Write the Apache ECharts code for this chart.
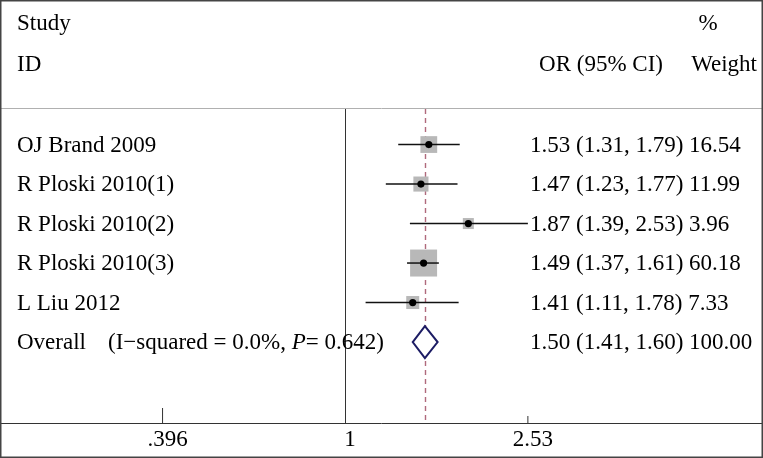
<!DOCTYPE html>
<html>
<head>
<meta charset="utf-8">
<script src="https://cdn.jsdelivr.net/npm/echarts@6/dist/echarts.min.js"></script>
<style>html,body{margin:0;padding:0;background:#fff}#c{width:763px;height:458px}</style>
</head>
<body>
<div id="c"></div>
<script>
var studies = ['OJ Brand 2009', 'R Ploski 2010(1)', 'R Ploski 2010(2)', 'R Ploski 2010(3)', 'L Liu 2012'];
var orVals = [1.53, 1.47, 1.87, 1.49, 1.41];
var loVals = [1.31, 1.23, 1.39, 1.37, 1.11];
var hiVals = [1.79, 1.77, 2.53, 1.61, 1.78];
var weights = [16.54, 11.99, 3.96, 60.18, 7.33];
var overallLabel = 'Overall';
var heteroLabel = 'I\u2212squared = 0.0%';
var pValue = '0.642';
var overallOR = 1.50, overallLo = 1.41, overallHi = 1.60, overallWeight = 100.00;
var tickValues = [0.396, 1, 2.53];
var tickLabels = ['.396', '1', '2.53'];

var FONT = "'Liberation Serif', 'Times New Roman', serif";
var FS = 23;
var TXT = '#000';

var studyData = studies.map(function (s, i) {
  return [orVals[i], i + 1, loVals[i], hiVals[i], weights[i]];
});
var overallRow = studies.length + 1;

function fmt(v) { return v.toFixed(2); }
function font() { return FS + 'px ' + FONT; }

var chart = echarts.init(document.getElementById('c'), null, {renderer: 'canvas'});
var option = {
  animation: false,
  backgroundColor: '#fff',
  grid: {left: 0, right: 0, top: 109, bottom: 35},
  xAxis: {
    type: 'log',
    logBase: 10,
    min: 0.1735,
    max: 8.346,
    axisLine: {show: true, lineStyle: {color: '#333', width: 1}},
    axisTick: {show: false},
    splitLine: {show: false},
    axisLabel: {
      customValues: tickValues,
      margin: 5,
      padding: [0, 0, 0, 10],
      fontFamily: FONT,
      fontSize: FS,
      color: TXT,
      formatter: function (v) {
        var best = 0;
        for (var i = 1; i < tickValues.length; i++) {
          if (Math.abs(tickValues[i] - v) < Math.abs(tickValues[best] - v)) best = i;
        }
        return tickValues[best] === 1 ? '{up|' + tickLabels[best] + '}' : tickLabels[best];
      },
      rich: {up: {fontFamily: FONT, fontSize: FS, color: TXT, padding: [0, 0, 7, 0]}}
    }
  },
  yAxis: {
    type: 'value', inverse: true, min: 0.1, max: 8.05, show: false
  },
  series: [
    {
      type: 'custom',
      name: 'ticks',
      silent: true,
      data: tickValues.filter(function (v) { return v !== 1; }).map(function (v) { return [v]; }),
      encode: {x: 0},
      renderItem: function (params, api) {
        var cs = params.coordSys;
        var x = api.coord([api.value(0), 8.05])[0];
        var bottom = cs.y + cs.height;
        var len = params.dataIndex === 0 ? 15 : 7;
        return {type: 'line', shape: {x1: x, y1: bottom, x2: x, y2: bottom - len},
          style: {stroke: '#333', lineWidth: 1}};
      },
      z: 3
    },
    {
      type: 'custom',
      name: 'refs',
      silent: true,
      data: [],
      markLine: {
        silent: true, symbol: 'none', label: {show: false},
        data: [
          {xAxis: 1, lineStyle: {color: '#333', width: 1, type: 'solid'}},
          {xAxis: overallOR, lineStyle: {color: '#b06a7c', width: 1.4, type: [5, 4]}}
        ]
      },
      renderItem: function () { return null; },
      z: 1
    },
    {
      type: 'custom',
      name: 'studies',
      data: studyData,
      encode: {x: 0, y: 1},
      renderItem: function (params, api) {
        var row = api.value(1);
        var c = api.coord([api.value(0), row]);
        var l = api.coord([api.value(2), row]);
        var h = api.coord([api.value(3), row]);
        var w = api.value(4);
        var s = 5.5 + 2.77 * Math.sqrt(w);
        var i = params.dataIndex;
        return {
          type: 'group',
          children: [
            {type: 'rect', shape: {x: c[0] - s / 2, y: c[1] - s / 2, width: s, height: s},
              style: {fill: '#b8b8b8'}, z2: 1},
            {type: 'line', shape: {x1: l[0], y1: c[1], x2: h[0], y2: c[1]},
              style: {stroke: '#111', lineWidth: 1.5}, z2: 2},
            {type: 'circle', shape: {cx: c[0], cy: c[1], r: 3.6}, style: {fill: '#000'}, z2: 3},
            {type: 'text', x: 17, y: c[1] + 1, style: {text: studies[i], font: font(),
              fill: TXT, textAlign: 'left', textVerticalAlign: 'middle'}},
            {type: 'text', x: 530, y: c[1] + 1, style: {
              text: fmt(api.value(0)) + ' (' + fmt(api.value(2)) + ', ' + fmt(api.value(3)) + ') ' + fmt(w),
              font: font(), fill: TXT, textAlign: 'left', textVerticalAlign: 'middle'}}
          ]
        };
      },
      z: 5
    },
    {
      type: 'custom',
      name: 'overall',
      data: [[overallOR, overallRow, overallLo, overallHi, overallWeight]],
      encode: {x: 0, y: 1},
      renderItem: function (params, api) {
        var row = api.value(1);
        var c = api.coord([api.value(0), row]);
        var l = api.coord([api.value(2), row]);
        var h = api.coord([api.value(3), row]);
        var hh = 16;
        return {
          type: 'group',
          children: [
            {type: 'polygon', shape: {points: [[l[0], c[1]], [c[0], c[1] - hh], [h[0], c[1]], [c[0], c[1] + hh]]},
              style: {fill: '#fff', stroke: '#1c1c64', lineWidth: 2}},
            {type: 'text', x: 17, y: c[1] + 1, style: {text: overallLabel, font: font(),
              fill: TXT, textAlign: 'left', textVerticalAlign: 'middle'}},
            {type: 'text', x: 108, y: c[1] + 1, style: {
              text: '(' + heteroLabel + ', {i|P}= ' + pValue + ')',
              font: font(), fill: TXT, textAlign: 'left', textVerticalAlign: 'middle',
              rich: {i: {fontStyle: 'italic', fontFamily: FONT, fontSize: FS, fill: TXT}}}, z2: 10},
            {type: 'text', x: 530, y: c[1] + 1, style: {
              text: fmt(api.value(0)) + ' (' + fmt(api.value(2)) + ', ' + fmt(api.value(3)) + ') ' + fmt(api.value(4)),
              font: font(), fill: TXT, textAlign: 'left', textVerticalAlign: 'middle'}}
          ]
        };
      },
      z: 6
    }
  ],
  graphic: [
    {type: 'line', shape: {x1: 0, y1: 108.5, x2: 763, y2: 108.5}, style: {stroke: '#b0b0b0', lineWidth: 1}, z: 10},
    {type: 'rect', shape: {x: 0.75, y: 0.75, width: 761.5, height: 456.5},
      style: {fill: 'none', stroke: '#444', lineWidth: 1.5}, z: 10},
    {type: 'text', x: 17, y: 24, style: {text: 'Study', font: font(), fill: TXT, textVerticalAlign: 'middle'}},
    {type: 'text', x: 17, y: 65, style: {text: 'ID', font: font(), fill: TXT, textVerticalAlign: 'middle'}},
    {type: 'text', x: 708, y: 24, style: {text: '%', font: font(), fill: TXT, textAlign: 'center', textVerticalAlign: 'middle'}},
    {type: 'text', x: 663, y: 65, style: {text: 'OR (95% CI)', font: font(), fill: TXT, textAlign: 'right', textVerticalAlign: 'middle'}},
    {type: 'text', x: 757, y: 65, style: {text: 'Weight', font: font(), fill: TXT, textAlign: 'right', textVerticalAlign: 'middle'}}
  ]
};
chart.setOption(option);
</script>
</body>
</html>
